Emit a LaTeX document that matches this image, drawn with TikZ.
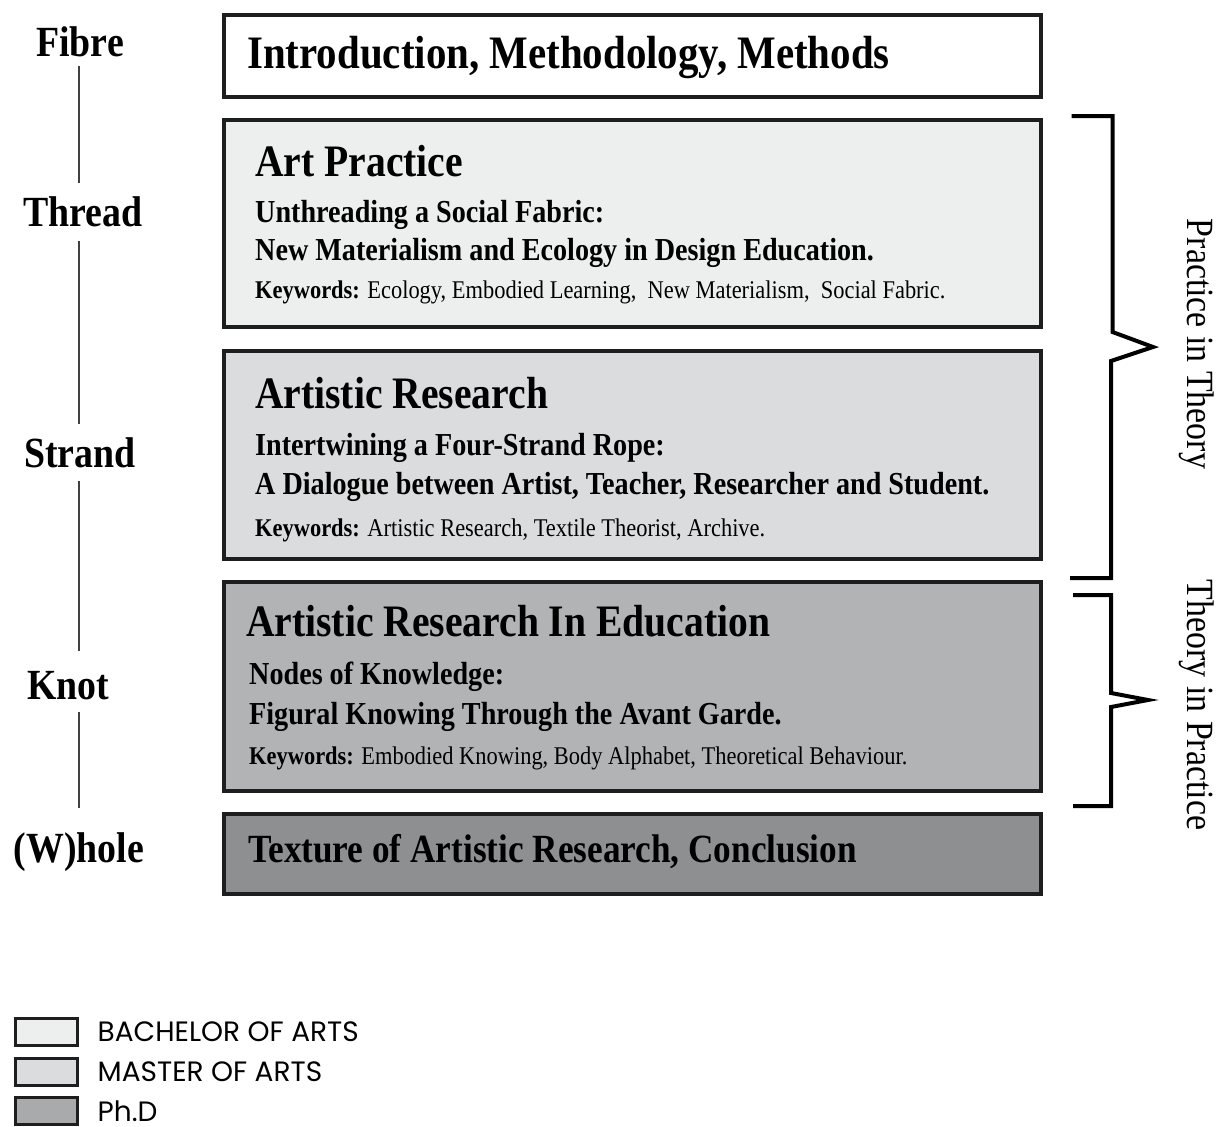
\documentclass[tikz,border=0pt]{standalone}
\usepackage{fontspec}
\setmainfont{Liberation Serif}[FakeStretch=0.88]
\newfontfamily\legendfont{Poppins}
\usetikzlibrary{positioning, calc}

\definecolor{bachelor}{HTML}{EDEEEE}
\definecolor{master}{HTML}{DBDCDD}
\definecolor{phd}{HTML}{B2B3B5}
\definecolor{closing}{HTML}{8E8F91}
\definecolor{edge}{HTML}{1E1E1E}

\begin{document}
\begin{tikzpicture}[
    x=1pt, y=-1pt,
    chapter/.style  = {draw=edge, line width=3.5pt, anchor=north west, inner sep=0pt, minimum width=817pt},
    title/.style    = {anchor=base west, inner sep=0pt, font=\fontsize{45}{54}\selectfont\bfseries},
    subtitle/.style = {anchor=base west, inner sep=0pt, font=\fontsize{32}{38}\selectfont\bfseries},
    keywords/.style = {anchor=base west, inner sep=0pt, font=\fontsize{25.5}{30}\selectfont},
    level/.style    = {anchor=base, inner sep=0pt, text height=30pt, text depth=8pt, font=\fontsize{43}{52}\selectfont\bfseries},
    spine/.style    = {line width=2pt, draw=edge!85},
    brace/.style    = {line width=4pt, line join=miter},
    side/.style     = {rotate=-90, inner sep=0pt, font=\fontsize{38.5}{46}\selectfont},
    legbox/.style   = {draw=edge, line width=3pt, minimum width=62pt, minimum height=27pt, inner sep=0pt},
    legtext/.style  = {inner sep=0pt, font=\legendfont\fontsize{28}{33}\selectfont}
]
\useasboundingbox (0,0) rectangle (1227,1127);

% Kapitoly
\node[chapter, fill=white,    minimum height=82pt]  (intro)    at (222,13)  {};
\node[chapter, fill=bachelor, minimum height=207pt] (art)      at (222,118) {};
\node[chapter, fill=master,   minimum height=208pt] (research) at (222,349) {};
\node[chapter, fill=phd,      minimum height=209pt] (edu)      at (222,580) {};
\node[chapter, fill=closing,  minimum height=80pt]  (texture)  at (222,812) {};

% Texty v kapitolach
\node[title, font=\fontsize{46.5}{56}\selectfont\bfseries] (introtxt) at (247,68) {Introduction, Methodology, Methods};

\node[title]    (arttitle) at (255,176) {Art Practice};
\node[subtitle] (artsub1)  at (255,222) {Unthreading a Social Fabric:};
\node[subtitle] (artsub2)  at (255,260) {New Materialism and Ecology in Design Education.};
\node[keywords] (artkey)   at (255,298) {\textbf{Keywords:} Ecology, Embodied Learning,\ \ New Materialism,\ \ Social Fabric.};

\node[title]    (restitle) at (255,408) {Artistic Research};
\node[subtitle] (ressub1)  at (255,455) {Intertwining a Four-Strand Rope:};
\node[subtitle] (ressub2)  at (255,494) {A Dialogue between Artist, Teacher, Researcher and Student.};
\node[keywords] (reskey)   at (255,536) {\textbf{Keywords:} Artistic Research, Textile Theorist, Archive.};

\node[title]    (edutitle) at (246,636) {Artistic Research In Education};
\node[subtitle] (edusub1)  at (249,684) {Nodes of Knowledge:};
\node[subtitle] (edusub2)  at (249,724) {Figural Knowing Through the Avant Garde.};
\node[keywords] (edukey)   at (249,764) {\textbf{Keywords:} Embodied Knowing, Body Alphabet, Theoretical Behaviour.};

\node[title, font=\fontsize{40}{48}\selectfont\bfseries] (texttxt) at (248,862) {Texture of Artistic Research, Conclusion};

% Levy sloupec
\coordinate (spinex) at (79,0);
\node[level] (fibre)  at (80,56)  {Fibre};
\node[level] (thread) at (83,226) {Thread};
\node[level] (strand) at (80,467) {Strand};
\node[level] (knot)   at (68,699) {Knot};
\node[level] (whole)  at (79,862) {(W)hole};

\draw[spine, shorten <=2pt, shorten >=13pt] (fibre.south -| spinex)  -- (thread.north -| spinex);
\draw[spine, shorten <=7pt, shorten >=13pt] (thread.south -| spinex) -- (strand.north -| spinex);
\draw[spine, shorten <=6pt, shorten >=18pt] (strand.south -| spinex) -- (knot.north -| spinex);
\draw[spine, shorten <=5pt, shorten >=24pt] (knot.south -| spinex)   -- (whole.north -| spinex);

% Zavorky vpravo
\draw[brace] ($(art.north east)+(29,-2)$) -- ++(41,0) coordinate (b1) -- (b1 |- 0,332)
    -- (1153,347) -- (1111,361) -- (1111,578) -- ++(-41,0);
\draw[brace] (1073,595) -- (1111,595) -- (1111,693) -- (1148,700) -- (1111,707)
    -- (1111,806) -- ++(-38,0);

\node[side] (pit) at (1197,344) {Practice in Theory};
\node[side] (tip) at (1197,705) {Theory in Practice};

% Legenda
\node[legbox, fill=bachelor]     (ba)     at (46,1032) {};
\node[legbox, fill=master]       (ma)     at (46,1072) {};
\node[legbox, fill=phd!95!black] (phdbox) at (46,1111) {};
\node[legtext, right=19pt of ba]     (batxt)  {BACHELOR OF ARTS};
\node[legtext, right=19pt of ma]     (matxt)  {MASTER OF ARTS};
\node[legtext, right=19pt of phdbox] (phdtxt) {Ph.D};

\end{tikzpicture}
\end{document}
